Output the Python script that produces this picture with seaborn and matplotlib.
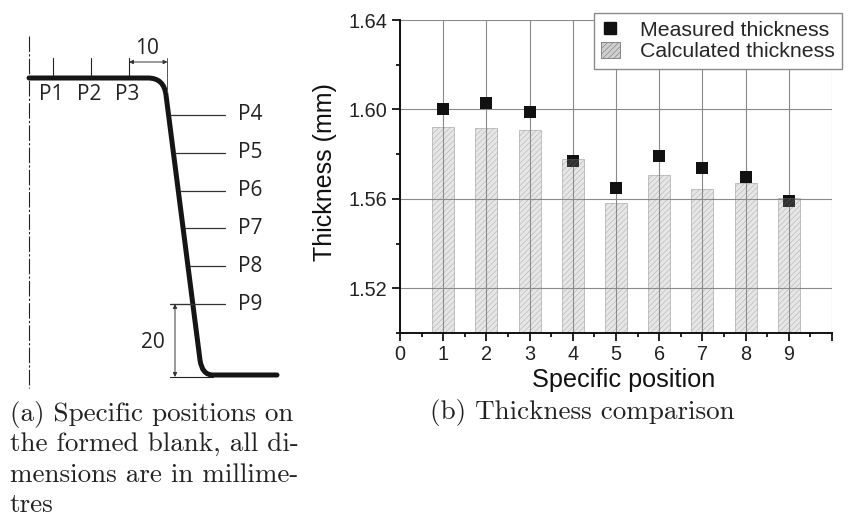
import numpy as np
import pandas as pd
import seaborn as sns
import matplotlib
matplotlib.use("Agg")
import matplotlib.pyplot as plt
from matplotlib.lines import Line2D
from matplotlib.patches import Patch, PathPatch
from matplotlib.path import Path

# chart values
positions = [1, 2, 3, 4, 5, 6, 7, 8, 9]
measured = [1.600, 1.603, 1.599, 1.577, 1.565, 1.579, 1.574, 1.570, 1.559]
calculated = [1.592, 1.5915, 1.591, 1.5777, 1.558, 1.5706, 1.5643, 1.567, 1.5604]
x_ticks = [0, 1, 2, 3, 4, 5, 6, 7, 8, 9, 10]
x_tick_labels = ["0", "1", "2", "3", "4", "5", "6", "7", "8", "9", ""]
y_ticks = [1.52, 1.56, 1.60, 1.64]
y_tick_labels = ["1.52", "1.56", "1.60", "1.64"]

# schematic (a), in image pixels
blank_verts = [(29, 78), (148, 78), (164, 78), (166, 95), (200, 360), (202, 375), (213, 375), (277, 375)]
blank_codes = [Path.MOVETO, Path.LINETO, Path.CURVE3, Path.CURVE3, Path.LINETO, Path.CURVE3, Path.CURVE3, Path.LINETO]
top_labels = ["P1", "P2", "P3"]
top_x = [53.5, 91, 129]
side_labels = ["P4", "P5", "P6", "P7", "P8", "P9"]
side_y = [115, 153, 190.5, 228, 266, 304]
side_x = [170, 175, 180, 185, 190, 170]

W, H = 849, 516
sns.set_style("ticks")
plt.rcParams['font.family'] = ['Liberation Sans', 'DejaVu Sans']
plt.rcParams['hatch.linewidth'] = 0.4

fig = plt.figure(figsize=(W / 100, H / 100), dpi=100)

# chart (b)
left, right, top, bottom = 400, 832, 20, 333
ax = fig.add_axes([left / W, 1 - bottom / H, (right - left) / W, (bottom - top) / H])
df = pd.DataFrame({"pos": positions, "measured": measured, "calculated": calculated})

sns.scatterplot(data=df, x="pos", y="measured", marker="s", s=68, color="#111111",
                linewidth=0, ax=ax, zorder=2, clip_on=False)
sns.barplot(data=df, x="pos", y="calculated", native_scale=True, width=0.51, color="#999999",
            saturation=1, ax=ax, zorder=3)
for bar in ax.patches:
    bar.set_facecolor((0.6, 0.6, 0.6, 0.24))
    bar.set_edgecolor((0.45, 0.45, 0.45, 0.45))
    bar.set_hatch("//////")
    bar.set_linewidth(0.6)

ax.set_xlim(0, 10)
ax.set_ylim(1.50, 1.64)
ax.set_xticks(x_ticks)
ax.set_xticklabels(x_tick_labels)
ax.set_yticks(y_ticks)
ax.set_yticklabels(y_tick_labels)
ax.set_xticks(np.arange(0.5, 10, 1), minor=True)
ax.set_yticks([1.50, 1.54, 1.58, 1.62], minor=True)
ax.tick_params(axis='both', which='major', length=6, width=1.3, labelsize=14.3, color="#111111", labelcolor="#222222", pad=3)
ax.tick_params(axis='both', which='minor', length=3.2, width=1.3, color="#111111")
ax.grid(True, which='major', color="#8a8a8a", linewidth=0.8)
ax.set_axisbelow(True)
sns.despine(ax=ax)
for side in ["left", "bottom"]:
    ax.spines[side].set_linewidth(1.4)
    ax.spines[side].set_color("#111111")
    ax.spines[side].set_zorder(5)
ax.set_xlabel("Specific position", fontsize=18.2, color="#111111")
ax.set_ylabel("Thickness (mm)", fontsize=18, color="#111111")
ax.xaxis.set_label_coords((624 - left) / (right - left), -0.111)
ax.yaxis.set_label_coords((337 - left) / (right - left), (bottom - 172) / (bottom - top))

handles = [
    Line2D([], [], linestyle="none", marker="s", markersize=8.5, color="#111111"),
    Patch(facecolor="#cfcfcf", edgecolor="#777777", hatch="//////", linewidth=0.6),
]
ax.legend(handles, ["Measured thickness", "Calculated thickness"], loc="upper right",
          bbox_to_anchor=(842 / W, 1 - 13 / H), bbox_transform=fig.transFigure, borderaxespad=0,
          fontsize=15.3, frameon=True, fancybox=False, framealpha=1, edgecolor="#8a8a8a",
          labelspacing=0.12, handlelength=0.85, handleheight=0.75, handletextpad=0.95, borderpad=0.35)

# overlay in pixel coordinates for the schematic and captions
ov = fig.add_axes([0, 0, 1, 1], zorder=-1)
ov.set_xlim(0, W)
ov.set_ylim(H, 0)
ov.axis("off")

ov.plot([29.5, 29.5], [36, 388], color="#222222", lw=0.8, linestyle=(0, (14, 2, 2, 2)))
ov.add_patch(PathPatch(Path(blank_verts, blank_codes), fill=False, edgecolor="#151515", lw=3.6, capstyle="round", joinstyle="round"))

label_font = ['Open Sans', 'DejaVu Sans']
for name, x in zip(top_labels, top_x):
    ov.plot([x, x], [58, 76], color="#222222", lw=0.8)
    ov.text(x - 2, 95, name, family=label_font, fontsize=15, color="#222222", ha="center", va="center")
for name, y, x in zip(side_labels, side_y, side_x):
    ov.plot([x, 225], [y, y], color="#333333", lw=0.9)
    ov.text(238.5, y, name, family=label_font, fontsize=15, color="#222222", ha="left", va="center")

# dimensions
ov.plot([167.5, 167.5], [58, 92], color="#555555", lw=0.7)
ov.annotate("", xy=(129, 62), xytext=(167.5, 62), arrowprops=dict(arrowstyle="<|-|>", color="#333333", lw=0.7, mutation_scale=6, shrinkA=0, shrinkB=0))
ov.text(147, 48, "10", family=label_font, fontsize=15, color="#222222", ha="center", va="center")
ov.plot([170, 193], [304, 304], color="#333333", lw=0.8)
ov.plot([170, 213], [377, 377], color="#222222", lw=0.8)
ov.annotate("", xy=(175, 304), xytext=(175, 377), arrowprops=dict(arrowstyle="<|-|>", color="#333333", lw=0.7, mutation_scale=6, shrinkA=0, shrinkB=0))
ov.text(153, 342, "20", family=label_font, fontsize=15, color="#222222", ha="center", va="center")

# captions
cap_a = ["(a) Specific positions on", "the formed blank, all di-", "mensions are in millime-", "tres"]
cap_y = [414, 444, 475, 505]
for line, y in zip(cap_a, cap_y):
    ov.text(10, y, line, family=["cmr10", "DejaVu Serif"], fontsize=19.5, color="#222222", ha="left", va="center")
ov.text(430, 413, "(b) Thickness comparison", family=["cmr10", "DejaVu Serif"], fontsize=19.5, color="#222222", ha="left", va="center")

fig.savefig("out.png", dpi=100)
